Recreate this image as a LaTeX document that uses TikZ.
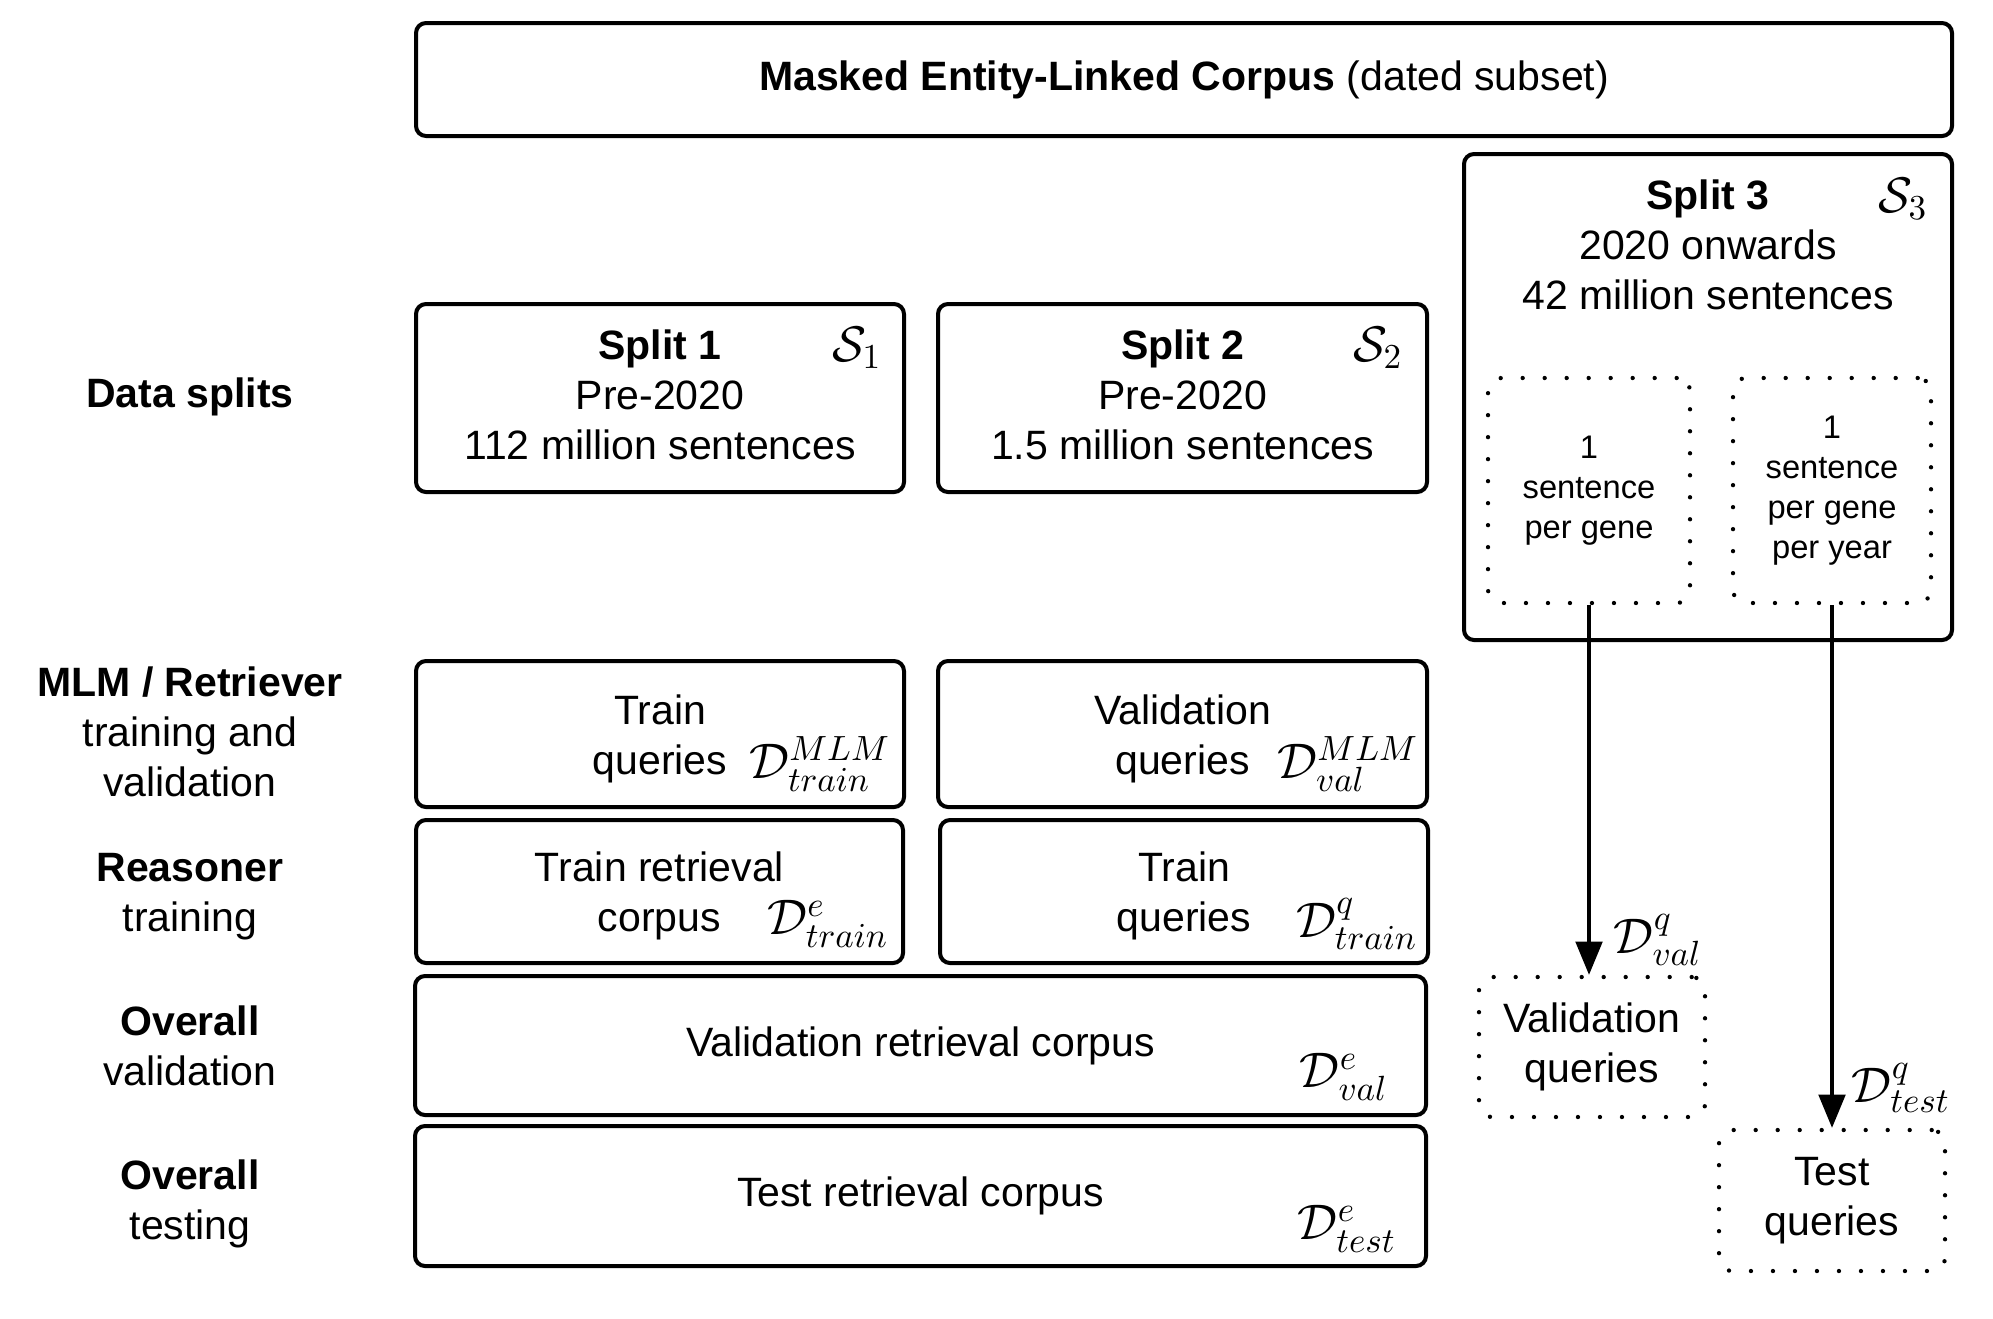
\RequirePackage{fix-cm}
\documentclass[tikz,border=0pt]{standalone}
\usepackage[no-math]{fontspec}
\setmainfont{Liberation Sans}
\usetikzlibrary{arrows.meta}

\begin{document}
\begin{tikzpicture}[x=0.3pt, y=-0.3pt,
        font=\fontsize{12.3}{15}\selectfont,
        box/.style={draw, line width=1.2pt, rounded corners=3pt, align=center, inner sep=0pt},
        dotbox/.style={draw, line width=1.3pt, line cap=round, dash pattern=on 0pt off 6.6pt,
            rounded corners=4pt, align=center, inner sep=0pt},
        small/.style={font=\fontsize{9.8}{12}\selectfont},
        rowlbl/.style={align=center},
        sym/.style={font=\fontsize{15}{18}\selectfont, inner sep=0pt},
        arr/.style={-{Triangle[width=8pt,length=10pt]}, line width=1pt}]
        \useasboundingbox (0,0) rectangle (1993,1318);

        % corpus
        \node[box, minimum width=460.8pt, minimum height=33.9pt] (corpus) at (1184,79.5)
            {\textbf{Masked Entity-Linked Corpus} (dated subset)};

        % row labels
        \node[rowlbl] (lsplits) at (190,397) {\textbf{Data splits}};
        \node[rowlbl] (lmlm) at (190,732) {\textbf{MLM / Retriever}\\training and\\validation};
        \node[rowlbl] (lreason) at (190,897) {\textbf{Reasoner}\\training};
        \node[rowlbl] (lval) at (190,1046) {\textbf{Overall}\\validation};
        \node[rowlbl] (ltest) at (190,1204) {\textbf{Overall}\\testing};

        % splits
        \node[box, minimum width=146.4pt, minimum height=56.4pt] (split1) at (660,398) {};
        \node[rowlbl] (split1txt) at (660,395) {\textbf{Split 1}\\Pre-2020\\112 million sentences};
        \node[sym] (s1) at (857,348) {$\mathcal{S}_1$};
        \node[box, minimum width=146.7pt, minimum height=56.4pt] (split2) at (1182.5,398) {};
        \node[rowlbl] (split2txt) at (1182.5,395) {\textbf{Split 2}\\Pre-2020\\1.5 million sentences};
        \node[sym] (s2) at (1378,348) {$\mathcal{S}_2$};
        \node[box, minimum width=146.4pt, minimum height=145.8pt] (split3) at (1708,397) {};
        \node[rowlbl] (split3txt) at (1708,245) {\textbf{Split 3}\\2020 onwards\\42 million sentences};
        \node[sym] (s3) at (1903,199) {$\mathcal{S}_3$};
        \node[dotbox, small, minimum width=60.6pt, minimum height=67.5pt] (pergene) at (1589,490.5)
            {1\\sentence\\per gene};
        \node[dotbox, small, minimum width=59.4pt, minimum height=67.5pt] (peryear) at (1832,490.5)
            {1\\sentence\\per gene\\per year};

        % MLM / retriever
        \node[box, minimum width=146.4pt, minimum height=43.8pt] (mlmtrain) at (660,734) {};
        \node[rowlbl] (mlmtraintxt) at (660,739) {Train\\queries};
        \node[sym] (dmlmtrain) at (820,764) {$\mathcal{D}^{MLM}_{train}$};
        \node[box, minimum width=146.7pt, minimum height=43.8pt] (mlmval) at (1182.5,734) {};
        \node[rowlbl] (mlmvaltxt) at (1182.5,739) {Validation\\queries};
        \node[sym] (dmlmval) at (1348,764) {$\mathcal{D}^{MLM}_{val}$};

        % reasoner
        \node[box, minimum width=146.1pt, minimum height=42.9pt] (rcorpus) at (659.5,891.5) {};
        \node[rowlbl] (rcorpustxt) at (659.5,896) {Train retrieval\\corpus};
        \node[sym] (detrain) at (828,924) {$\mathcal{D}^{e}_{train}$};
        \node[box, minimum width=146.4pt, minimum height=42.9pt] (rqueries) at (1184,891.5) {};
        \node[rowlbl] (rqueriestxt) at (1184,896) {Train\\queries};
        \node[sym] (dqtrain) at (1357,924) {$\mathcal{D}^{q}_{train}$};

        % overall
        \node[box, minimum width=303.3pt, minimum height=41.7pt] (valcorpus) at (920.5,1045.5)
            {Validation retrieval corpus};
        \node[sym] (deval) at (1344,1077) {$\mathcal{D}^{e}_{val}$};
        \node[box, minimum width=303.3pt, minimum height=42pt] (testcorpus) at (920.5,1196)
            {Test retrieval corpus};
        \node[sym] (detest) at (1347,1229) {$\mathcal{D}^{e}_{test}$};

        \node[dotbox, minimum width=67.8pt, minimum height=42pt] (valq) at (1592,1047)
            {Validation\\queries};
        \node[dotbox, minimum width=67.8pt, minimum height=42.3pt] (testq) at (1832,1200.5)
            {Test\\queries};

        \draw[arr] (pergene.south) -- (pergene.south |- valq.north);
        \draw[arr] (peryear.south) -- (peryear.south |- testq.north);
        \node[sym] (dqval) at (1658,940) {$\mathcal{D}^{q}_{val}$};
        \node[sym] (dqtest) at (1901,1088) {$\mathcal{D}^{q}_{test}$};
\end{tikzpicture}
\end{document}
